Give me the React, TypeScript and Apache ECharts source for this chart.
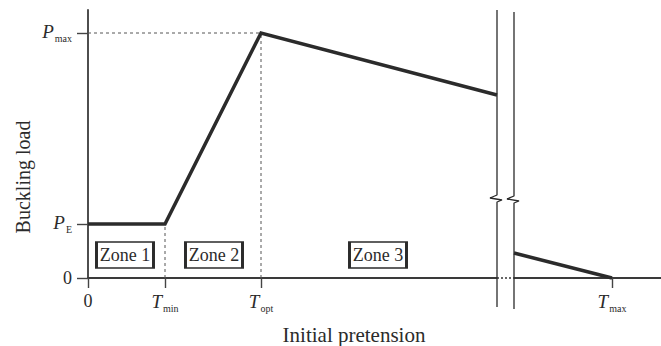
import React, { useEffect, useRef } from "react";
import * as echarts from "echarts";

// ---- data (abstract units) ----
const xRange = [0, 57.3];
const yRange = [0, 26.8];

const xTickValues = [0, 7.7, 17.3, 52.4];
const xTickMain = ["0", "T", "T", "T"];
const xTickSubs = ["", "min", "opt", "max"];

const yTickValues = [0, 5.4, 24.5];
const yTickMain = ["0", "P", "P"];
const yTickSubs = ["", "E", "max"];

// buckling-load curve, before and after the axis break
const curveBefore = [
  [0, 5.4],
  [7.7, 5.4],
  [17.3, 24.5],
  [40.9, 18.3],
];
const curveAfter = [
  [42.6, 2.5],
  [52.4, 0],
];

// guide lines
const guidePmax = [
  [0, 24.5],
  [17.3, 24.5],
];
const guideTmin = [
  [7.7, 0],
  [7.7, 5.4],
];
const guideTopt = [
  [17.3, 0],
  [17.3, 24.5],
];

// axis break (two vertical lines with zigzag)
const breakLeft = [
  [40.9, 26.8],
  [40.9, 8.3],
  [40.2, 8.0],
  [41.4, 7.8],
  [40.9, 7.6],
  [40.9, -2.9],
];
const breakRight = [
  [42.6, 26.6],
  [42.6, 8.2],
  [41.9, 7.9],
  [43.1, 7.7],
  [42.6, 7.5],
  [42.6, -3.1],
];
const breakGap = [
  [40.9, 0],
  [42.6, 0],
];

// zone labels
const zoneNames = ["Zone 1", "Zone 2", "Zone 3"];
const zoneX = [3.7, 12.6, 29.0];
const zoneY = [2.3, 2.3, 2.3];

const SERIF = "'Liberation Serif', 'DejaVu Serif', serif";
const INK = "#2b2b2b";

function findIdx(arr: number[], v: number) {
  return arr.findIndex((a) => Math.abs(a - v) < 1e-6);
}

export default function App() {
  const ref = useRef<HTMLDivElement>(null);
  useEffect(() => {
    if (!ref.current) return;
    const chart = echarts.init(ref.current, null, { renderer: "svg" });
    const rich = {
      v: {
        fontFamily: SERIF,
        fontStyle: "italic",
        fontSize: 19,
        color: INK,
        padding: [0, 0, 3, 0],
      },
      s: {
        fontFamily: SERIF,
        fontSize: 10,
        color: INK,
        padding: [10, 0, 0, 1],
      },
      n: { fontFamily: SERIF, fontSize: 18, color: INK },
    };
    const lineSeries = (data: number[][], style: any, z = 3) => ({
      type: "line",
      data,
      symbol: "none",
      clip: false,
      silent: true,
      z,
      lineStyle: style,
    });
    chart.setOption({
      animation: false,
      backgroundColor: "#fff",
      grid: { left: 88, right: 0, top: 10, bottom: 68 },
      xAxis: {
        type: "value",
        min: xRange[0],
        max: xRange[1],
        splitLine: { show: false },
        axisLine: { show: true, lineStyle: { color: "#3a3a3a", width: 1.8 } },
        axisTick: {
          show: true,
          customValues: xTickValues,
          length: 10,
          lineStyle: { color: "#444", width: 1.4 },
        },
        axisLabel: {
          show: true,
          customValues: xTickValues,
          margin: 14,
          formatter: (val: number) => {
            const i = findIdx(xTickValues, val);
            if (i < 0) return "";
            return xTickSubs[i]
              ? `{v|${xTickMain[i]}}{s|${xTickSubs[i]}}`
              : `{n|${xTickMain[i]}}`;
          },
          rich,
        },
      },
      yAxis: {
        type: "value",
        min: yRange[0],
        max: yRange[1],
        splitLine: { show: false },
        axisLine: { show: true, lineStyle: { color: "#3a3a3a", width: 1.8 } },
        axisTick: {
          show: true,
          customValues: yTickValues,
          length: 11,
          lineStyle: { color: "#444", width: 1.4 },
        },
        axisLabel: {
          show: true,
          customValues: yTickValues,
          margin: 16,
          formatter: (val: number) => {
            const i = findIdx(yTickValues, val);
            if (i < 0) return "";
            return yTickSubs[i]
              ? `{v|${yTickMain[i]}}{s|${yTickSubs[i]}}`
              : `{n|${yTickMain[i]}}`;
          },
          rich,
        },
      },
      series: [
        lineSeries(guidePmax, { color: "#555", width: 1, type: [3, 3] }, 1),
        lineSeries(guideTmin, { color: "#555", width: 1, type: [3, 3] }, 1),
        lineSeries(guideTopt, { color: "#555", width: 1, type: [3, 3] }, 1),
        lineSeries(breakGap, { color: "#fff", width: 3 }, 2),
        lineSeries(breakGap, { color: "#666", width: 1.8, type: [2, 2] }, 2),
        lineSeries(breakLeft, { color: INK, width: 1.3 }, 3),
        lineSeries(breakRight, { color: INK, width: 1.3 }, 3),
        lineSeries(curveBefore, { color: INK, width: 3.5, join: "miter" }, 4),
        lineSeries(curveAfter, { color: INK, width: 3.5 }, 4),
        {
          type: "scatter",
          silent: true,
          z: 5,
          symbol: "rect",
          symbolSize: [57, 26],
          itemStyle: { color: "#fff", borderColor: INK, borderWidth: 2, opacity: 1 },
          label: {
            show: true,
            position: "inside",
            formatter: "{b}",
            fontFamily: SERIF,
            fontSize: 18,
            color: INK,
            textBorderWidth: 0,
          },
          data: zoneNames.map((n, i) => ({ name: n, value: [zoneX[i], zoneY[i]] })),
        },
      ],
      graphic: [
        {
          type: "text",
          x: 23,
          y: 177,
          rotation: Math.PI / 2,
          style: {
            text: "Buckling load",
            fontFamily: SERIF,
            fontSize: 20,
            fill: INK,
            align: "center",
            verticalAlign: "middle",
          },
        },
        {
          type: "text",
          x: 354,
          y: 335,
          style: {
            text: "Initial pretension",
            fontFamily: SERIF,
            fontSize: 21,
            fill: INK,
            align: "center",
            verticalAlign: "middle",
          },
        },
      ],
    });
    return () => chart.dispose();
  }, []);
  return (
    <div
      ref={ref}
      style={{ position: "fixed", left: 0, top: 0, width: 661, height: 346, background: "#fff" }}
    />
  );
}
